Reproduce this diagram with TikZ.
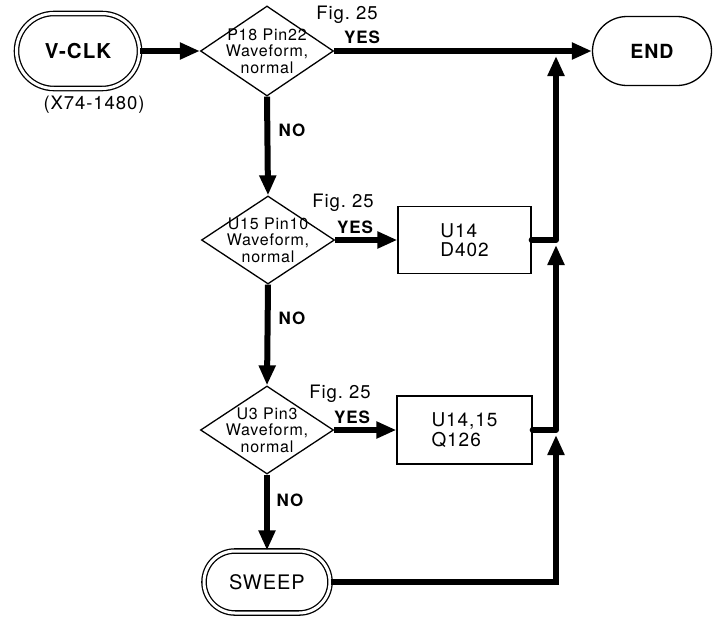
\documentclass[tikz,border=0pt]{standalone}
\usepackage{fontspec}
\setmainfont[LetterSpace=5]{TeX Gyre Heros}
\usetikzlibrary{arrows.meta,shapes.geometric,shapes.misc}
\begin{document}
\begin{tikzpicture}[x=1pt,y=-1pt,
  flow/.style={line width=6pt,-{Triangle[length=20pt,width=16pt]}},
  link/.style={line width=6pt},
  term/.style={rounded rectangle,draw,line width=1.3pt,inner sep=2pt},
  dterm/.style={term,double,double distance=3pt},
  dia/.style={diamond,draw,line width=1.3pt,inner sep=0pt,minimum width=133pt},
  diatext/.style={align=center,font=\fontsize{16}{16.5}\selectfont},
  boxs/.style={rectangle,draw,line width=1.3pt,align=left,font=\fontsize{19}{19.5}\selectfont},
  fig/.style={font=\fontsize{18.5}{20}\selectfont},
  ans/.style={font=\bfseries\fontsize{17}{18}\selectfont}]
\useasboundingbox (0,0) rectangle (720,619);

% terminals
\node[dterm,minimum width=127pt,minimum height=75pt,font=\bfseries\fontsize{20.5}{22}\selectfont] (vclk) at (78,51) {V-CLK};
\node[font=\fontsize{18.5}{20}\selectfont] (vclkref) at (94,105) {(X74-1480)};
\node[term,minimum width=123pt,minimum height=69pt,font=\bfseries\fontsize{19.5}{21}\selectfont] (end) at (652,51) {END};
\node[dterm,minimum width=130pt,minimum height=62pt,font=\fontsize{20}{21}\selectfont] (sweep) at (267,582) {SWEEP};

% decisions
\node[dia,minimum height=90pt,label={[diatext]center:{P18 Pin22\\Waveform,\\normal}}] (d1) at (267,51) {};
\node[dia,minimum height=88pt,label={[diatext]center:{U15 Pin10\\Waveform,\\normal}}] (d2) at (268,240) {};
\node[dia,minimum height=88pt,label={[diatext]center:{U3 Pin3\\Waveform,\\normal}}] (d3) at (267,430) {};

% boxes
\node[boxs,minimum width=133pt,minimum height=67pt] (b1) at (464.5,240) {U14\\D402};
\node[boxs,minimum width=135pt,minimum height=68pt] (b2) at (464.5,430) {U14,15\\Q126};

% labels
\node[fig] (f1) at (347,15) {Fig.\ 25};
\node[ans] (y1) at (362,37) {YES};
\node[fig] (f2) at (343,203) {Fig.\ 25};
\node[ans] (y2) at (355,227) {YES};
\node[fig] (f3) at (340,394) {Fig.\ 25};
\node[ans] (y3) at (352,417) {YES};
\node[ans] (n1) at (292,130) {NO};
\node[ans] (n2) at (292,318) {NO};
\node[ans] (n3) at (290,500) {NO};

% junction points
\coordinate (j0) at (556,51);
\coordinate (j1) at (556,240);
\coordinate (j2) at (556,430);
\coordinate (corner) at (556,582);

% connectors
\draw[flow] (vclk.east) -- (d1.west);
\draw[flow] (d1.east) -- (end.west);
\draw[flow] (d1.south) -- (d2.north);
\draw[flow] (d2.east) -- (b1.west);
\draw[flow] (d2.south) -- (d3.north);
\draw[flow] (d3.east) -- (b2.west);
\draw[flow] (d3.south) -- (sweep.north);
\draw[link,line cap=round] (b1.east) -- (j1);
\draw[link,line cap=round] (b2.east) -- (j2);
\draw[flow,shorten >=5pt] (sweep.east) -- (corner) -- (j2);
\draw[flow,shorten >=5pt] (j2) -- (j1);
\draw[flow,shorten >=5pt] (j1) -- (j0);
\end{tikzpicture}
\end{document}
